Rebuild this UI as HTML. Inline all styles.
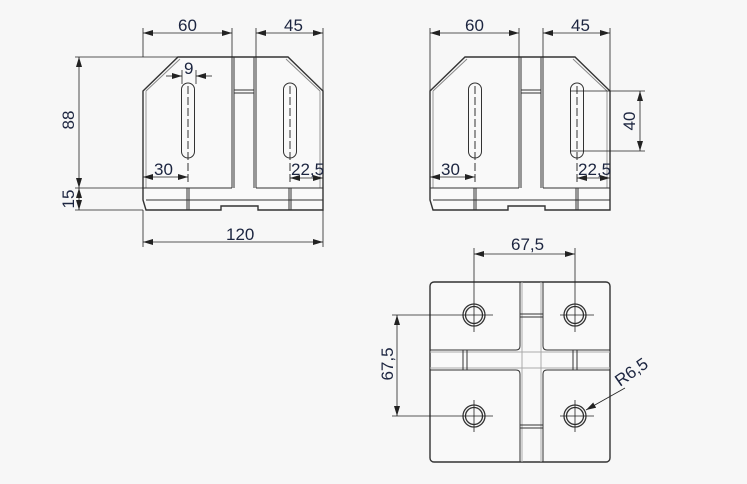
<!DOCTYPE html>
<html><head><meta charset="utf-8"><style>
html,body{margin:0;padding:0;background:#f7f7f7;width:747px;height:484px;overflow:hidden}
text{font-family:"Liberation Sans",sans-serif;font-size:17px;fill:#1c2540}
</style></head><body>
<svg width="747" height="484" viewBox="0 0 747 484" xmlns="http://www.w3.org/2000/svg">
<defs>
<marker id="a" viewBox="0 0 10 6" refX="10" refY="3" markerWidth="10" markerHeight="6" orient="auto-start-reverse" markerUnits="userSpaceOnUse"><path d="M0,0L10,3L0,6z" fill="#222"/></marker>
<g id="side" stroke="#333" fill="#f9f9f9" stroke-width="1">
<path d="M143,91 L178,57 L288,57 L323,91 L323,210 L258,210 L258,206 L221,206 L221,210 L146,210 L143,200 Z" stroke-width="1.4"/>
<path d="M146,91 L180,59 M286,59 L320,91" fill="none" stroke="#888"/>
<line x1="232" y1="57" x2="232" y2="188"/><line x1="234" y1="57" x2="234" y2="188"/>
<line x1="256" y1="57" x2="256" y2="188"/><line x1="254" y1="57" x2="254" y2="188"/>
<line x1="234" y1="90" x2="254" y2="90"/><line x1="234" y1="93" x2="254" y2="93"/>
<line x1="146" y1="91" x2="146" y2="188" stroke="#999"/><line x1="320" y1="91" x2="320" y2="188" stroke="#999"/>
<line x1="143" y1="188" x2="232" y2="188"/><line x1="256" y1="188" x2="323" y2="188"/>
<line x1="146" y1="200" x2="323" y2="200"/>
<line x1="187" y1="188" x2="187" y2="210"/><line x1="189" y1="188" x2="189" y2="210"/>
<line x1="289" y1="188" x2="289" y2="210"/><line x1="291" y1="188" x2="291" y2="210"/>
<rect x="181.5" y="83" width="13" height="75" rx="6.5"/>
<rect x="283.5" y="83" width="13" height="75" rx="6.5"/>
<line x1="188" y1="86" x2="188" y2="184" stroke-dasharray="8,3"/>
<line x1="290" y1="86" x2="290" y2="184" stroke-dasharray="8,3"/>
</g>
</defs>
<g stroke="#222" stroke-width="0.8" fill="none">
<use href="#side"/>
<use href="#side" transform="translate(287,0)"/>
<line x1="143" y1="28" x2="143" y2="57"/><line x1="232" y1="28" x2="232" y2="57"/>
<line x1="256" y1="28" x2="256" y2="57"/><line x1="323" y1="28" x2="323" y2="91"/>
<line x1="143" y1="33" x2="232" y2="33" marker-start="url(#a)" marker-end="url(#a)"/>
<line x1="256" y1="33" x2="323" y2="33" marker-start="url(#a)" marker-end="url(#a)"/>
<line x1="75" y1="57" x2="178" y2="57"/><line x1="75" y1="188" x2="143" y2="188"/><line x1="75" y1="210" x2="143" y2="210"/>
<line x1="79" y1="57" x2="79" y2="188" marker-start="url(#a)" marker-end="url(#a)"/>
<line x1="79" y1="188" x2="79" y2="210" marker-start="url(#a)" marker-end="url(#a)"/>
<line x1="182" y1="70" x2="182" y2="84"/><line x1="196" y1="70" x2="196" y2="84"/>
<line x1="166" y1="76" x2="182" y2="76" marker-end="url(#a)"/><line x1="212" y1="76" x2="196" y2="76" marker-end="url(#a)"/>
<line x1="143" y1="177" x2="188" y2="177" marker-start="url(#a)" marker-end="url(#a)"/>
<line x1="290" y1="178" x2="323" y2="178" marker-start="url(#a)" marker-end="url(#a)"/>
<line x1="143" y1="210" x2="143" y2="247"/><line x1="323" y1="210" x2="323" y2="247"/>
<line x1="143" y1="242" x2="323" y2="242" marker-start="url(#a)" marker-end="url(#a)"/>
<line x1="430" y1="28" x2="430" y2="91"/><line x1="519" y1="28" x2="519" y2="57"/>
<line x1="543" y1="28" x2="543" y2="57"/><line x1="610" y1="28" x2="610" y2="91"/>
<line x1="430" y1="33" x2="519" y2="33" marker-start="url(#a)" marker-end="url(#a)"/>
<line x1="543" y1="33" x2="610" y2="33" marker-start="url(#a)" marker-end="url(#a)"/>
<line x1="430" y1="177" x2="475" y2="177" marker-start="url(#a)" marker-end="url(#a)"/>
<line x1="577" y1="178" x2="610" y2="178" marker-start="url(#a)" marker-end="url(#a)"/>
<line x1="570" y1="91" x2="645" y2="91"/><line x1="570" y1="151" x2="645" y2="151"/>
<line x1="640" y1="91" x2="640" y2="151" marker-start="url(#a)" marker-end="url(#a)"/>
</g>
<g stroke="#333" stroke-width="1" fill="#f9f9f9">
<rect x="430" y="282" width="180" height="180" rx="4" stroke-width="1.4"/>
<path d="M520,282 L520,346 Q520,350 516,350 L430,350 M430,370 L516,370 Q520,370 520,374 L520,462 M543,462 L543,374 Q543,370 547,370 L610,370 M610,350 L547,350 Q543,350 543,346 L543,282" fill="none"/>
<path d="M522,282 V462 M541,282 V462 M430,352 H610 M430,368 H610" fill="none" stroke="#aaa"/>
<path d="M520,314 H543 M520,317 H543 M520,425 H543 M520,428 H543 M463,350 V370 M467,350 V370 M573,350 V370 M577,350 V370" fill="none"/>
<g stroke-width="1.3">
<circle cx="474" cy="315" r="11"/><circle cx="474" cy="315" r="8.5"/>
<circle cx="575" cy="315" r="11"/><circle cx="575" cy="315" r="8.5"/>
<circle cx="474" cy="416" r="11"/><circle cx="474" cy="416" r="8.5"/>
<circle cx="575" cy="416" r="11"/><circle cx="575" cy="416" r="8.5"/>
</g>
</g>
<g stroke="#222" stroke-width="0.8" fill="none">
<path d="M459,315 H493 M560,315 H594 M459,416 H493 M560,416 H594 M474,400 V432 M575,300 V332 M575,400 V432 M474,332 V300"/>
<line x1="474" y1="248" x2="474" y2="300"/><line x1="575" y1="248" x2="575" y2="300"/>
<line x1="474" y1="254" x2="575" y2="254" marker-start="url(#a)" marker-end="url(#a)"/>
<line x1="392" y1="315" x2="459" y2="315"/><line x1="392" y1="416" x2="459" y2="416"/>
<line x1="397" y1="315" x2="397" y2="416" marker-start="url(#a)" marker-end="url(#a)"/>
<line x1="625" y1="388" x2="586" y2="410" marker-end="url(#a)"/>
</g>
<text x="178" y="31">60</text><text x="284" y="31">45</text>
<text x="465" y="31">60</text><text x="571" y="31">45</text>
<text x="184" y="74">9</text>
<text x="154" y="175">30</text><text x="441" y="175">30</text>
<text x="291" y="175" font-size="16">22,5</text><text x="578" y="175" font-size="16">22,5</text>
<text x="226" y="240">120</text>
<text transform="translate(74,120) rotate(-90)" text-anchor="middle">88</text>
<text transform="translate(74,199) rotate(-90)" text-anchor="middle">15</text>
<text transform="translate(635,121) rotate(-90)" text-anchor="middle">40</text>
<text x="511" y="250">67,5</text>
<text transform="translate(393,364) rotate(-90)" text-anchor="middle">67,5</text>
<text transform="translate(620,387) rotate(-35)">R6,5</text>
</svg>
</body></html>
